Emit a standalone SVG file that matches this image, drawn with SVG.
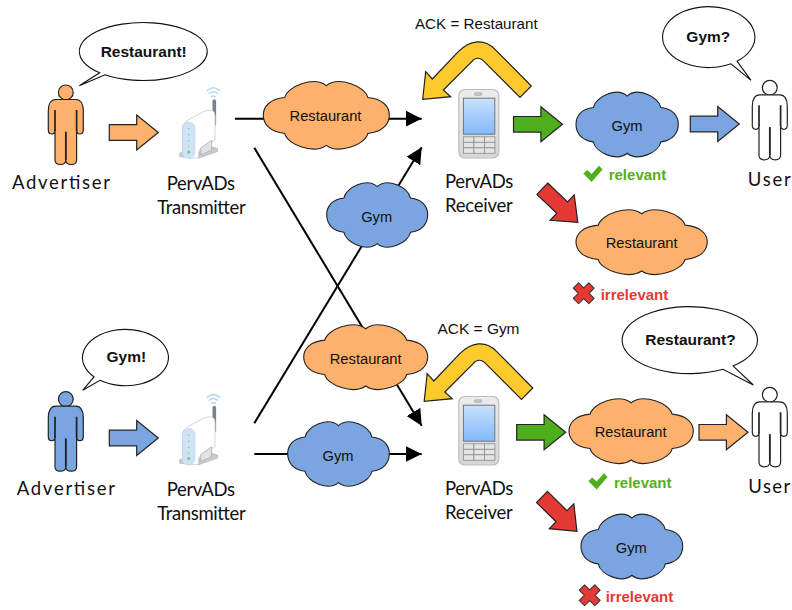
<svg xmlns="http://www.w3.org/2000/svg" xmlns:xlink="http://www.w3.org/1999/xlink" width="792" height="610" viewBox="0 0 792 610">
<style>
text{font-family:"Liberation Sans",Arial,sans-serif;fill:#111}
.lab{font-family:Lato,"Liberation Sans",sans-serif;font-size:18.5px;fill:#111}
.cl{font-size:14.7px;text-anchor:middle}
.say{font-size:15.5px;font-weight:bold;text-anchor:middle}
.ack{font-size:15px}
.ok{font-size:15px;font-weight:bold;fill:#55ae22}
.no{font-size:15px;font-weight:bold;fill:#e53935}
.edge{stroke:#000;stroke-width:2;fill:none}
.hd{marker-end:url(#ah)}
.blk{stroke:#222;stroke-width:1.2;stroke-linejoin:miter}
.bub{fill:#fff;stroke:#111;stroke-width:1.1;stroke-linejoin:miter}
.or{fill:#fdb16c}.bl{fill:#7aa5e0}.wh{fill:#fff}.gr{fill:#4fae1c}.rd{fill:#e53935}.ye{fill:#fdca2e}
.cloud{stroke:#222;stroke-width:1.1;vector-effect:non-scaling-stroke}
.pb{stroke:#222;stroke-width:1.2;stroke-linejoin:round}
.pl{stroke:#222;stroke-width:1.7;fill:none}
.wf{fill:none;stroke:#b3d8f7;stroke-width:1.5}
.key{fill:#e4e4e4;stroke:#8d8d8d;stroke-width:.8}
</style>
<defs>
<marker id="ah" markerUnits="userSpaceOnUse" markerWidth="18" markerHeight="18" refX="16" refY="9" orient="auto"><path d="M0,1 L16,9 L0,17Z" fill="#000"/></marker>
<linearGradient id="scr" x1="0" y1="0" x2="0" y2="1"><stop offset="0" stop-color="#c9e0fd"/><stop offset="1" stop-color="#82baf9"/></linearGradient>
<linearGradient id="cas" x1="0" y1="0" x2="0" y2="1"><stop offset="0" stop-color="#ececec"/><stop offset="1" stop-color="#d6d6d6"/></linearGradient>
<path id="cloud" class="cloud" d="M17,25 C19,9 40,-6 50,8 C60,-6 81,9 83,25 C95,27 100,38 100,50 C100,62 95,74 83,76 C81,92 60,106 50,93 C40,106 19,92 17,76 C5,74 0,62 0,50 C0,38 5,27 17,25Z"/>
<path id="arrow" class="blk" d="M0,-7.8 H27.4 V-17.5 L49,0 L27.4,17.5 V7.8 H0Z"/>
<path id="ack" class="blk ye" d="M422.7,99.3 L425.7,71.7 L432.3,79 L458.3,51.7 C470,40 484,38 495,49.3 L531.3,86 L520,97.3 L485,62.3 C480,57 475,57 471.7,61.7 L443.3,90 L450.7,96.7Z"/>
<g id="person">
<circle cx="0" cy="7.4" r="7.4" class="pb"/>
<path class="pb" d="M-10,14.5 H10 C15,14.5 17.5,19 17.5,26 V45 C17.5,48 15.5,49 14,49 C12.5,49 10.8,48 10.8,45 V75 C10.8,78.5 8,79.5 5.5,79.5 C2,79.5 0,78 0,75 V47 V75 C0,78 -2,79.5 -5.5,79.5 C-8,79.5 -10.8,78.5 -10.8,75 V45 C-10.8,48 -12.5,49 -14,49 C-15.5,49 -17.5,48 -17.5,45 V26 C-17.5,19 -15,14.5 -10,14.5Z"/>
<path class="pl" d="M-10.8,25 V46 M10.8,25 V46 M0,47 V75"/>
</g>
<g id="router">
<path class="wf" d="M206.8,91 Q213.3,84.5 220,91 M208.8,94 Q213.3,89.5 218,94 M211,97 Q213.3,95 216,97"/>
<path d="M214.3,101 V124" stroke="#7b818a" stroke-width="3.6" stroke-linecap="round"/>
<rect x="179" y="152" width="10" height="5.5" rx="2.5" fill="#c6c9cc"/>
<path d="M182.5,130 Q182.5,123 188,120 L205,111 Q215,108 215,116 V140 L199,150 V158 H188 Q182.5,158 182.5,152Z" fill="#fff" stroke="#d2d6da" stroke-width="1"/>
<rect x="182.5" y="122" width="12.5" height="36.3" rx="6" fill="#cfe3f7" stroke="#bcd4ea" stroke-width=".6"/>
<path d="M199,158 L217.5,151.5 V148.5 L212,147 L199,152Z" fill="#c9cbce" stroke="#b0b3b6" stroke-width=".7"/>
<path d="M200.7,148 L211.7,140 V150 L200.7,155Z" fill="#e0e2e4" stroke="#aeb1b4" stroke-width=".8"/>
<path d="M188.7,128 V148" stroke="#7fc17f" stroke-width="1" stroke-dasharray="1.4 4.6"/>
<circle cx="188.7" cy="152" r="1.5" fill="#7fc17f"/>
</g>
<g id="phone">
<rect x="458.8" y="89.5" width="40" height="68.5" rx="6" fill="url(#cas)" stroke="#bdbdbd" stroke-width="1.2"/>
<rect x="474.5" y="92.8" width="7.5" height="2.6" rx="1.3" fill="#ccc" stroke="#999" stroke-width=".6"/>
<rect x="463.4" y="98.2" width="31.4" height="36" fill="url(#scr)" stroke="#767676" stroke-width="1"/>
<rect x="463.4" y="136.8" width="10.5" height="5.5" class="key"/><rect x="473.9" y="136.8" width="10.5" height="5.5" class="key"/><rect x="484.4" y="136.8" width="10.5" height="5.5" class="key"/>
<rect x="463.4" y="142.3" width="10.5" height="5.5" class="key"/><rect x="473.9" y="142.3" width="10.5" height="5.5" class="key"/><rect x="484.4" y="142.3" width="10.5" height="5.5" class="key"/>
<rect x="463.4" y="147.8" width="10.5" height="5.5" class="key"/><rect x="473.9" y="147.8" width="10.5" height="5.5" class="key"/><rect x="484.4" y="147.8" width="10.5" height="5.5" class="key"/>
</g>
<path id="check" fill="#4fae1c" d="M0,7.7 L4,4.3 L8.3,8.3 L15.7,0 L19.3,3.7 L8.3,16.3Z"/>
<path id="cross" fill="#e53935" stroke="#333" stroke-width="1" stroke-linejoin="round" d="M-3.8,-11 H3.8 V-3.8 H11 V3.8 H3.8 V11 H-3.8 V3.8 H-11 V-3.8 H-3.8Z" transform="rotate(45)"/>
</defs>
<rect width="792" height="610" fill="#fff"/>

<g id="connectors">
<path class="edge hd" d="M235,118.7 H421.7"/>
<path class="edge hd" d="M254.3,147.7 L421.7,425.7"/>
<path class="edge hd" d="M254.3,423.3 L421.7,147.3"/>
<path class="edge hd" d="M254.3,454 H421.7"/>
<use href="#arrow" class="or" transform="translate(109.3,132.5)"/>
<use href="#arrow" class="bl" transform="translate(109.3,438)"/>
<use href="#arrow" class="gr" transform="translate(513.5,124.3)"/>
<use href="#arrow" class="gr" transform="translate(516.7,432.3)"/>
<use href="#arrow" class="bl" transform="translate(690.3,124)"/>
<use href="#arrow" class="or" transform="translate(699,432.3)"/>
<use href="#arrow" class="rd" transform="translate(542.3,188.7) rotate(43.5)"/>
<use href="#arrow" class="rd" transform="translate(542,497) rotate(44.5)"/>
<use href="#ack"/>
<use href="#ack" transform="translate(1.5,302)"/>
</g>

<g id="advertiser-top"><use href="#person" class="or" transform="translate(65.8,85)"/><text class="lab" x="12" y="189" textLength="98" lengthAdjust="spacing">Advertiser</text></g>
<g id="bubble-restaurant"><path class="bub" d="M99.7,72.8 L79.3,85.7 L105,74.8 A64,29 0 1 0 99.7,72.8Z"/><text class="say" x="143.7" y="56.7">Restaurant!</text></g>
<g id="transmitter-top"><use href="#router"/><text class="lab" x="166.7" y="189.5" textLength="68.3" lengthAdjust="spacing">PervADs</text><text class="lab" x="157.3" y="214" textLength="88.4" lengthAdjust="spacing">Transmitter</text></g>
<g id="cloud-restaurant-1"><use href="#cloud" class="or" transform="translate(263.3,80) scale(1.26,.703)"/><text class="cl" x="325.5" y="121">Restaurant</text></g>
<g id="cloud-gym-1"><use href="#cloud" class="bl" transform="translate(326.7,181.3) scale(1.01,.67)"/><text class="cl" x="376.7" y="221.5">Gym</text></g>
<g id="receiver-top"><use href="#phone"/><text class="lab" x="445" y="188.3" textLength="68.3" lengthAdjust="spacing">PervADs</text><text class="lab" x="445" y="212.3" textLength="67.7" lengthAdjust="spacing">Receiver</text></g>
<g id="ack-restaurant"><text class="ack" x="415" y="29" textLength="122.7" lengthAdjust="spacingAndGlyphs">ACK = Restaurant</text></g>
<g id="cloud-gym-2"><use href="#cloud" class="bl" transform="translate(576,90.7) scale(1.023,.673)"/><text class="cl" x="627" y="130.7">Gym</text></g>
<g id="relevant-top"><use href="#check" transform="translate(583.3,165.7)"/><text class="ok" x="608.7" y="180">relevant</text></g>
<g id="cloud-restaurant-2"><use href="#cloud" class="or" transform="translate(576,208.3) scale(1.313,.674)"/><text class="cl" x="641.7" y="248.3">Restaurant</text></g>
<g id="irrelevant-top"><use href="#cross" transform="translate(583.7,293.3)"/><text class="no" x="600.7" y="300">irrelevant</text></g>
<g id="user-top"><use href="#person" class="wh" transform="translate(769.8,80.3)"/><text class="lab" x="747.7" y="186" textLength="43" lengthAdjust="spacing">User</text></g>
<g id="bubble-gym-q"><path class="bub" d="M737,61.2 L751,80.3 L731,63.8 A46.2,30.5 0 1 1 737,61.2Z"/><text class="say" x="708.3" y="42.3">Gym?</text></g>

<g id="advertiser-bottom"><use href="#person" class="bl" transform="translate(65.8,391.7)"/><text class="lab" x="16.7" y="495" textLength="98.3" lengthAdjust="spacing">Advertiser</text></g>
<g id="bubble-gym"><path class="bub" d="M94,376.8 L82.7,390.3 L100,380.3 A43,28.2 0 1 0 94,376.8Z"/><text class="say" x="126.3" y="362.3">Gym!</text></g>
<g id="transmitter-bottom"><use href="#router" transform="translate(0,306.6)"/><text class="lab" x="166.7" y="495.7" textLength="68.3" lengthAdjust="spacing">PervADs</text><text class="lab" x="157.3" y="520" textLength="88.4" lengthAdjust="spacing">Transmitter</text></g>
<g id="cloud-restaurant-3"><use href="#cloud" class="or" transform="translate(303.7,323.3) scale(1.24,.674)"/><text class="cl" x="365.7" y="364">Restaurant</text></g>
<g id="cloud-gym-3"><use href="#cloud" class="bl" transform="translate(287.7,420.3) scale(1.016,.67)"/><text class="cl" x="338" y="460.7">Gym</text></g>
<g id="receiver-bottom"><use href="#phone" transform="translate(0,307)"/><text class="lab" x="445" y="495.3" textLength="68.3" lengthAdjust="spacing">PervADs</text><text class="lab" x="445" y="519.3" textLength="67.7" lengthAdjust="spacing">Receiver</text></g>
<g id="ack-gym"><text class="ack" x="437.5" y="334" textLength="82" lengthAdjust="spacingAndGlyphs">ACK = Gym</text></g>
<g id="cloud-restaurant-4"><use href="#cloud" class="or" transform="translate(569,397.3) scale(1.243,.674)"/><text class="cl" x="630.7" y="437.3">Restaurant</text></g>
<g id="relevant-bottom"><use href="#check" transform="translate(588.3,473.3)"/><text class="ok" x="614" y="487.7">relevant</text></g>
<g id="cloud-gym-4"><use href="#cloud" class="bl" transform="translate(581,512.7) scale(1.017,.673)"/><text class="cl" x="631.3" y="553.3">Gym</text></g>
<g id="irrelevant-bottom"><use href="#cross" transform="translate(589.7,595.3)"/><text class="no" x="605.7" y="602.3">irrelevant</text></g>
<g id="user-bottom"><use href="#person" class="wh" transform="translate(769.8,387.3)"/><text class="lab" x="748.3" y="493.3" textLength="42" lengthAdjust="spacing">User</text></g>
<g id="bubble-restaurant-q"><path class="bub" d="M733,365.9 L753.3,385 L723,369.3 A67.7,33.5 0 1 1 733,365.9Z"/><text class="say" x="690.5" y="345">Restaurant?</text></g>
</svg>
